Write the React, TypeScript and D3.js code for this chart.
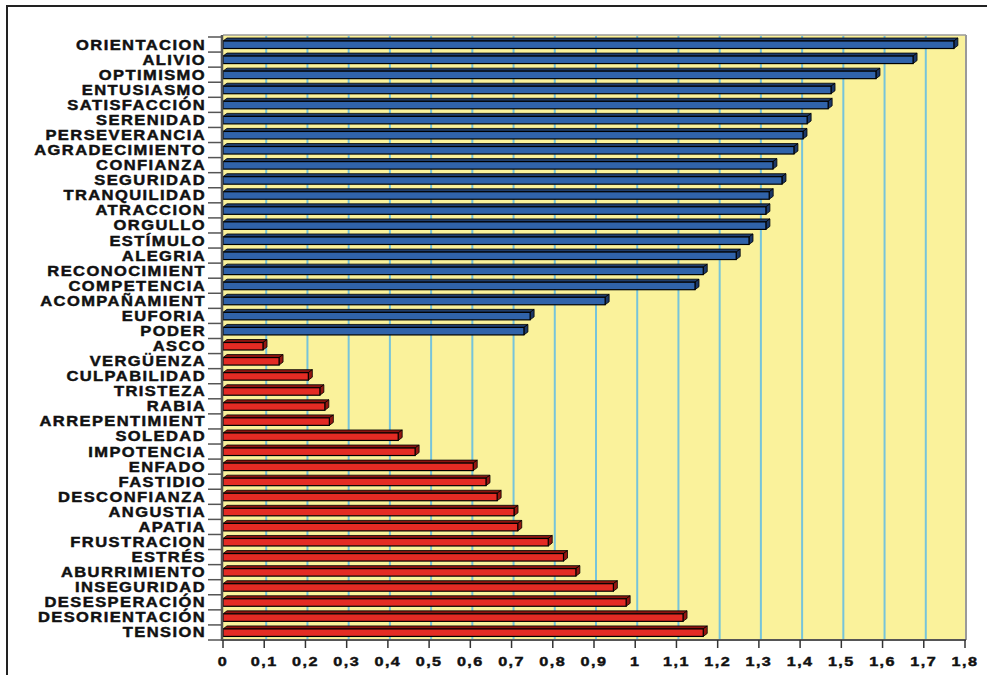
import React from 'react';
import * as d3 from 'd3';

const positives = [
  'ORIENTACION', 'ALIVIO', 'OPTIMISMO', 'ENTUSIASMO', 'SATISFACCIÓN', 'SERENIDAD',
  'PERSEVERANCIA', 'AGRADECIMIENTO', 'CONFIANZA', 'SEGURIDAD', 'TRANQUILIDAD',
  'ATRACCION', 'ORGULLO', 'ESTÍMULO', 'ALEGRIA', 'RECONOCIMIENT', 'COMPETENCIA',
  'ACOMPAÑAMIENT', 'EUFORIA', 'PODER',
];
const positiveValues = [
  1.773, 1.674, 1.584, 1.475, 1.468, 1.417, 1.407, 1.385, 1.334, 1.356, 1.325,
  1.317, 1.317, 1.276, 1.245, 1.165, 1.145, 0.927, 0.745, 0.73,
];

const negatives = [
  'ASCO', 'VERGÜENZA', 'CULPABILIDAD', 'TRISTEZA', 'RABIA', 'ARREPENTIMIENT',
  'SOLEDAD', 'IMPOTENCIA', 'ENFADO', 'FASTIDIO', 'DESCONFIANZA', 'ANGUSTIA',
  'APATIA', 'FRUSTRACION', 'ESTRÉS', 'ABURRIMIENTO', 'INSEGURIDAD',
  'DESESPERACIÓN', 'DESORIENTACIÓN', 'TENSION',
];
const negativeValues = [
  0.097, 0.136, 0.207, 0.235, 0.247, 0.258, 0.425, 0.466, 0.607, 0.638, 0.665,
  0.706, 0.715, 0.789, 0.826, 0.856, 0.947, 0.978, 1.116, 1.165,
];

const ticks = [0, 0.1, 0.2, 0.3, 0.4, 0.5, 0.6, 0.7, 0.8, 0.9, 1, 1.1, 1.2, 1.3, 1.4, 1.5, 1.6, 1.7, 1.8];

const colors = {
  pos: { front: '#3063aa', top: '#1f3d6c', side: '#1b3766' },
  neg: { front: '#e42b24', top: '#8c1410', side: '#941611' },
};

const rows = [
  ...positives.map((name, i) => ({ name, value: positiveValues[i], kind: 'pos' })),
  ...negatives.map((name, i) => ({ name, value: negativeValues[i], kind: 'neg' })),
];

const W = 987;
const H = 675;
const DX = 4;
const DY = 3;
const labelFont = '"Liberation Sans", Arial, sans-serif';

export default function App() {
  const x = d3.scaleLinear().domain([0, 1.8]).range([223, 965]);
  const y = d3.scaleBand().domain(rows.map((r) => r.name)).range([37, 640]).padding(0);
  const bw = y.bandwidth();
  const fmt = (v) => d3.format('.1~f')(v).replace('.', ',');

  return (
    <svg width={W} height={H} style={{ position: 'absolute', left: 0, top: 0, background: '#fff' }}>
      {/* outer frame */}
      <rect x={7} y={6} width={1000} height={700} fill="none" stroke="#222" strokeWidth={2} />

      {/* back wall */}
      <rect x={223} y={35} width={743} height={605} fill="#faf29b" />
      <line x1={223} x2={966} y1={35} y2={35} stroke="#9a9a9a" strokeWidth={1.5} />
      <line x1={966} x2={966} y1={35} y2={640} stroke="#9a9a9a" strokeWidth={2} />
      {ticks.slice(1, -1).map((t) => (
        <line key={t} x1={x(t) + 2} x2={x(t) + 2} y1={36} y2={639} stroke="#76c4da" strokeWidth={2} />
      ))}

      {/* bars */}
      {rows.map((r) => {
        const c = colors[r.kind];
        const y0 = y(r.name) + 4;
        const y1 = y0 + 7.5;
        const xs = x(0);
        const xe = x(r.value);
        return (
          <g key={r.name}>
            <polygon
              points={`${xs},${y0} ${xs + DX},${y0 - DY} ${xe + DX},${y0 - DY} ${xe},${y0}`}
              fill={c.top}
              stroke="#000"
              strokeWidth={0.8}
            />
            <polygon
              points={`${xe},${y0} ${xe + DX},${y0 - DY} ${xe + DX},${y1 - DY} ${xe},${y1}`}
              fill={c.side}
              stroke="#000"
              strokeWidth={0.8}
            />
            <rect x={xs} y={y0} width={xe - xs} height={y1 - y0} fill={c.front} stroke="#000" strokeWidth={1.2} />
          </g>
        );
      })}

      {/* axes */}
      <line x1={222} x2={222} y1={35} y2={641} stroke="#555" strokeWidth={2.5} />
      {d3.range(rows.length + 1).map((i) => (
        <line key={i} x1={208} x2={222} y1={37 + i * bw} y2={37 + i * bw} stroke="#555" strokeWidth={1.5} />
      ))}
      <line x1={222} x2={966} y1={640} y2={640} stroke="#555" strokeWidth={2} />
      {ticks.map((t) => (
        <line key={t} x1={x(t)} x2={x(t)} y1={640} y2={648} stroke="#333" strokeWidth={1.5} />
      ))}

      {/* category labels */}
      {rows.map((r) => (
        <g key={r.name} transform={`translate(206,${y(r.name) + bw / 2 + 5}) scale(1.18,1)`}>
          <text
            textAnchor="end"
            fontFamily={labelFont}
            fontWeight="bold"
            fontSize={14}
            letterSpacing={1.2}
            fill="#111"
            stroke="#111"
            strokeWidth={0.45}
          >
            {r.name}
          </text>
        </g>
      ))}

      {/* value tick labels */}
      {ticks.map((t) => (
        <g key={t} transform={`translate(${x(t)},666) scale(1.2,1)`}>
          <text
            textAnchor="middle"
            fontFamily={labelFont}
            fontWeight="bold"
            fontSize={13.5}
            letterSpacing={1.2}
            fill="#111"
            stroke="#111"
            strokeWidth={0.45}
          >
            {fmt(t)}
          </text>
        </g>
      ))}
    </svg>
  );
}
